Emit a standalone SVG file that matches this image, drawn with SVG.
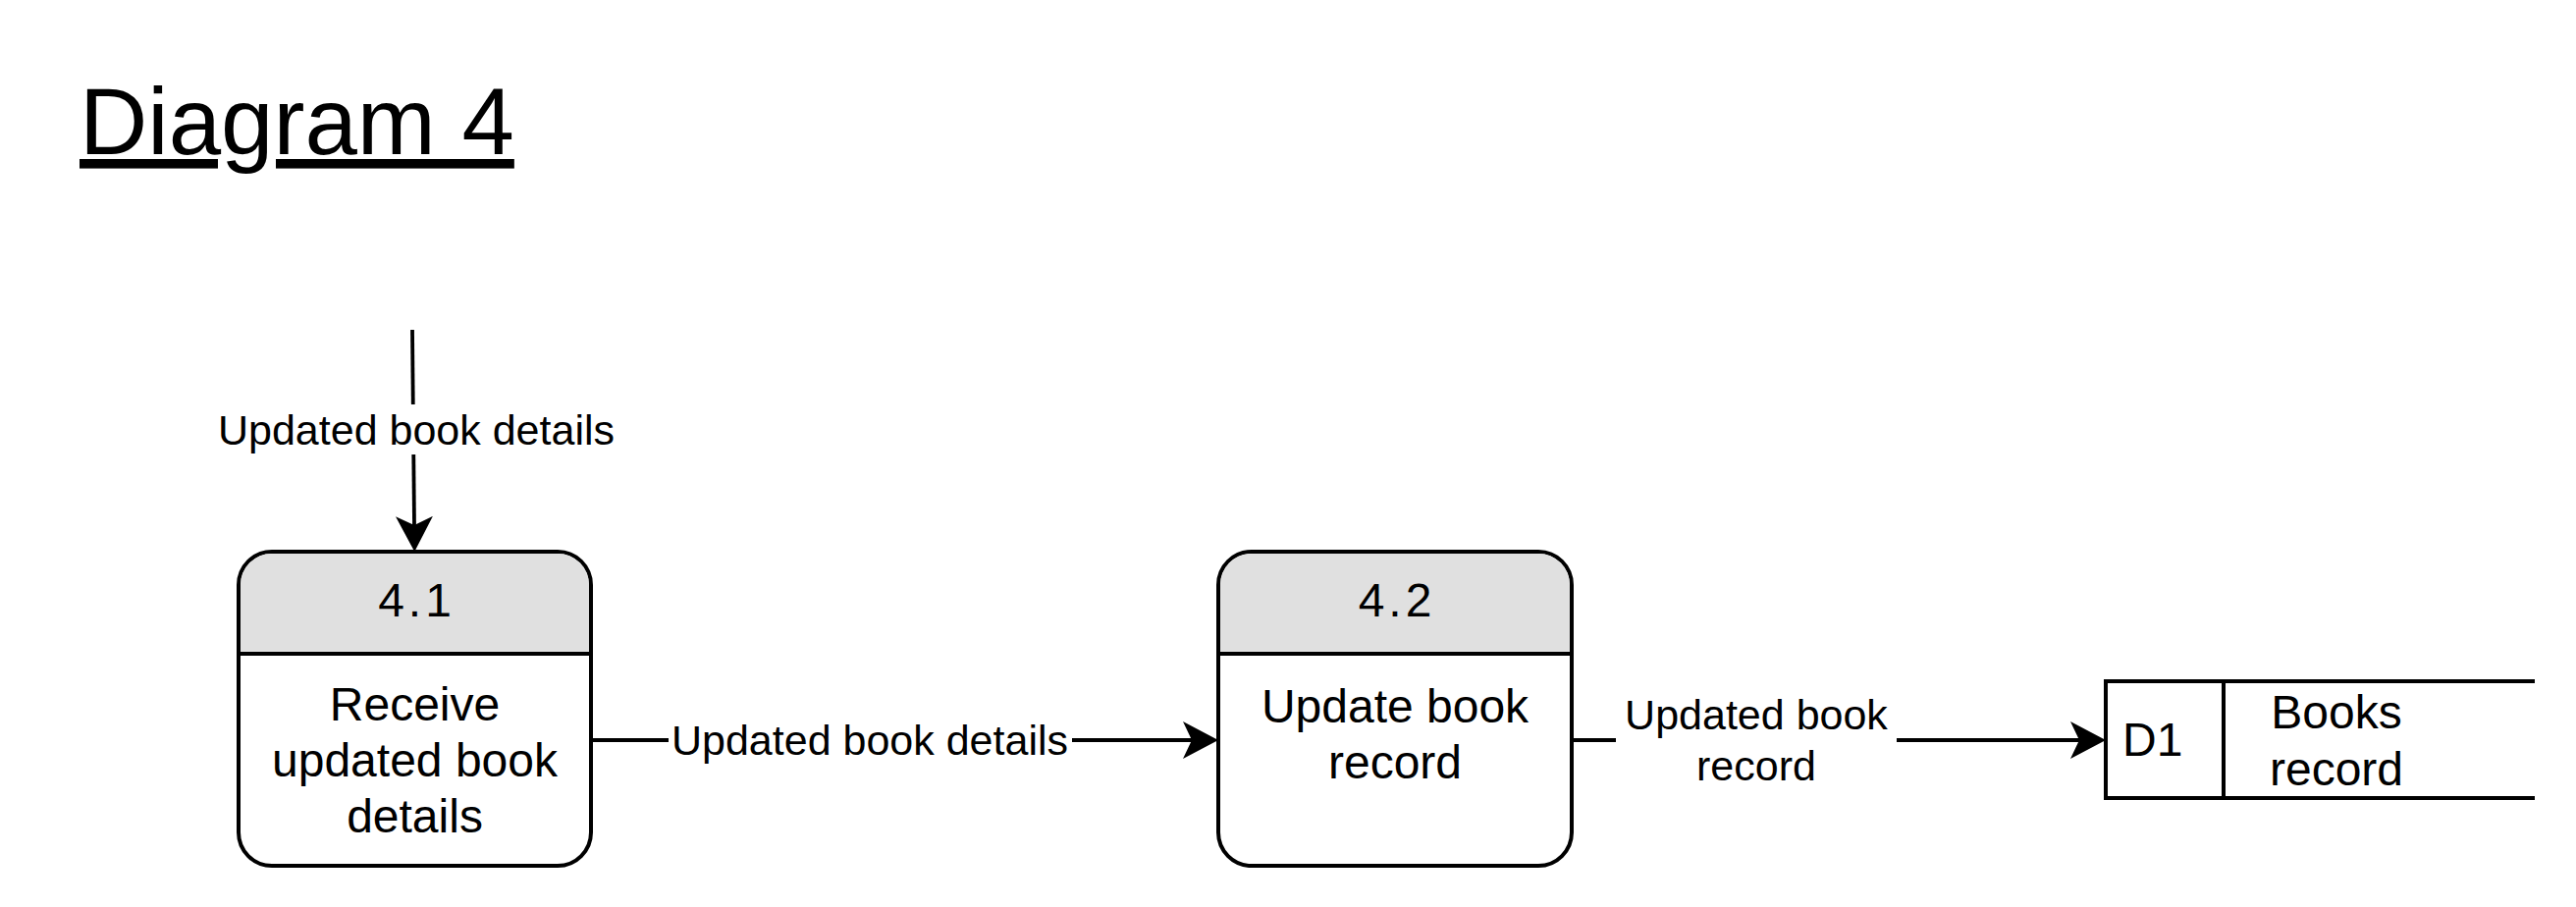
<svg xmlns="http://www.w3.org/2000/svg" width="2624" height="924" viewBox="0 0 2624 924">
  <style>
    .t { font-family: "Liberation Sans", Arial, Helvetica, sans-serif; fill: #000; }
    .title { font-size: 96px; text-decoration: underline; }
    .box { fill: #ffffff; stroke: #000; stroke-width: 4; }
    .hdr { fill: #e0e0e0; stroke: none; }
    .ln { fill: none; stroke: #000; stroke-width: 4; }
    .num { font-size: 48px; letter-spacing: 4px; text-anchor: middle; }
    .body { font-size: 48px; text-anchor: middle; }
    .lbl { font-size: 43px; text-anchor: middle; }
    .lblbg { fill: #ffffff; stroke: none; }
    .conn { fill: none; stroke: #000; stroke-width: 3.8; marker-end: url(#arrow); }
  </style>
  <defs>
    <marker id="arrow" markerUnits="userSpaceOnUse" viewBox="0 0 36 38" refX="9" refY="19" markerWidth="36" markerHeight="38" orient="auto">
      <path d="M0,0 L36,19 L0,38 L9,19 Z" fill="#000"/>
    </marker>
  </defs>
  <rect width="2624" height="924" fill="#ffffff"/>

  <g id="title">
    <text class="t title" x="81" y="157">Diagram 4</text>
  </g>

  <g id="connectors">
    <path class="conn" d="M420,336 L422,535"/>
    <path class="conn" d="M602,754 L1214,754"/>
    <path class="conn" d="M1601,754 L2118,754"/>
    <g id="labels">
      <rect class="lblbg" x="218" y="412" width="412" height="51"/>
      <text class="t lbl" x="424" y="453">Updated book details</text>
      <rect class="lblbg" x="681" y="730" width="411" height="48"/>
      <text class="t lbl" x="886" y="769">Updated book details</text>
      <rect class="lblbg" x="1646" y="704" width="286" height="100"/>
      <text class="t lbl" x="1789" y="743">Updated book</text>
      <text class="t lbl" x="1789" y="795">record</text>
    </g>
  </g>

  <g id="p41">
    <rect class="box" x="243" y="562" width="359" height="320" rx="34" ry="34"/>
    <path class="hdr" d="M245,666 L245,596 A32,32 0 0 1 277,564 L568,564 A32,32 0 0 1 600,596 L600,666 Z"/>
    <line class="ln" x1="243" y1="666" x2="602" y2="666"/>
    <text class="t num" x="424.5" y="628">4.1</text>
    <text class="t body" x="422.5" y="734">Receive</text>
    <text class="t body" x="422.5" y="791">updated book</text>
    <text class="t body" x="422.5" y="848">details</text>
  </g>

  <g id="p42">
    <rect class="box" x="1241" y="562" width="360" height="320" rx="34" ry="34"/>
    <path class="hdr" d="M1243,666 L1243,596 A32,32 0 0 1 1275,564 L1567,564 A32,32 0 0 1 1599,596 L1599,666 Z"/>
    <line class="ln" x1="1241" y1="666" x2="1601" y2="666"/>
    <text class="t num" x="1423" y="628">4.2</text>
    <text class="t body" x="1421" y="736">Update book</text>
    <text class="t body" x="1421" y="793">record</text>
  </g>

  <g id="d1">
    <rect x="2145" y="694" width="437" height="119" fill="#ffffff"/>
    <path class="ln" d="M2582,694 L2145,694 L2145,813 L2582,813"/>
    <line class="ln" x1="2265" y1="694" x2="2265" y2="813"/>
    <text class="t" x="2162" y="770" font-size="48">D1</text>
    <text class="t body" x="2380" y="742">Books</text>
    <text class="t body" x="2380" y="800">record</text>
  </g>
</svg>
